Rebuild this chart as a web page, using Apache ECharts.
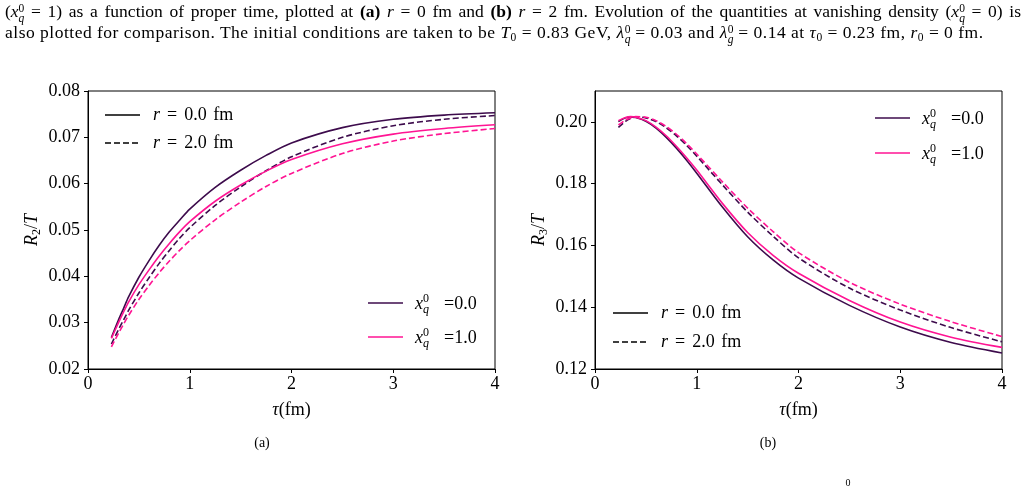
<!DOCTYPE html>
<html>
<head>
<meta charset="utf-8">
<title>R2/T and R3/T against proper time</title>
<script src="https://cdn.jsdelivr.net/npm/echarts@6.0.0/dist/echarts.min.js"></script>
<style>
  body { margin: 0; background: #fff; }
  #page { position: relative; width: 1028px; height: 486px; overflow: hidden; background: #fff; }
  #chart { position: absolute; left: 0; top: 0; width: 1028px; height: 486px; }
  .cap { position: absolute; left: 5px; width: 1016px; font-family: 'Liberation Serif', serif;
         font-size: 17.5px; line-height: 21px; color: #000; z-index: 2; }
  .cap.l1 { top: 1px; text-align: justify; text-align-last: justify; }
  .cap.l2 { top: 22px; letter-spacing: 0.5px; }
  .ss { display: inline-block; vertical-align: -5px; font-size: 11.5px; line-height: 10px; letter-spacing: 0; }
  .ss span, .ss i { display: block; }
  .cap sub { font-size: 11.5px; vertical-align: -3px; line-height: 0; }
</style>
</head>
<body>
<div id="page">
  <div class="cap l1">(<i>x</i><span class="ss"><span>0</span><i>q</i></span> = 1) as a function of proper time, plotted at <b>(a)</b> <i>r</i> = 0 fm and <b>(b)</b> <i>r</i> = 2 fm. Evolution of the quantities at vanishing density (<i>x</i><span class="ss"><span>0</span><i>q</i></span> = 0) is</div>
  <div class="cap l2">also plotted for comparison. The initial conditions are taken to be <i>T</i><sub>0</sub> = 0.83 GeV, <i>λ</i><span class="ss"><span>0</span><i>q</i></span> = 0.03 and <i>λ</i><span class="ss"><span>0</span><i>g</i></span> = 0.14 at <i>τ</i><sub>0</sub> = 0.23 fm, <i>r</i><sub>0</sub> = 0 fm.</div>
  <div id="chart"></div>
</div>
<script>
  'use strict'

  /*-----data-----*/
  var tau = [0.23, 0.3, 0.35, 0.4, 0.5, 0.6, 0.7, 0.8, 0.9, 1.0, 1.25, 1.5, 1.75, 2.0, 2.5, 3.0, 3.5, 4.0];

  // (a) R2/T
  var r2_x0_r0 = [0.0268, 0.0306, 0.0331, 0.0356, 0.0398, 0.0434, 0.0467, 0.0496, 0.0521, 0.0545, 0.0592, 0.0629, 0.0661, 0.0688, 0.0721, 0.0739, 0.0748, 0.0753];
  var r2_x1_r0 = [0.0266, 0.0300, 0.0323, 0.0345, 0.0382, 0.0414, 0.0444, 0.0471, 0.0496, 0.0518, 0.0562, 0.0597, 0.0627, 0.0652, 0.0686, 0.0707, 0.0719, 0.0727];
  var r2_x0_r2 = [0.0254, 0.0285, 0.0306, 0.0327, 0.0364, 0.0397, 0.0428, 0.0456, 0.0482, 0.0505, 0.0553, 0.0593, 0.0628, 0.0658, 0.0700, 0.0725, 0.0739, 0.0747];
  var r2_x1_r2 = [0.0248, 0.0277, 0.0297, 0.0316, 0.0350, 0.0380, 0.0408, 0.0433, 0.0456, 0.0477, 0.0522, 0.0560, 0.0594, 0.0622, 0.0665, 0.0692, 0.0708, 0.0719];

  // (b) R3/T
  var r3_x0_r0 = [0.2001, 0.2013, 0.2016, 0.2014, 0.2002, 0.1980, 0.1950, 0.1915, 0.1876, 0.1834, 0.1725, 0.1628, 0.1553, 0.1494, 0.1406, 0.1336, 0.1286, 0.1252];
  var r3_x1_r0 = [0.2004, 0.2014, 0.2017, 0.2015, 0.2004, 0.1983, 0.1955, 0.1921, 0.1884, 0.1844, 0.1737, 0.1642, 0.1568, 0.1510, 0.1422, 0.1352, 0.1303, 0.1270];
  var r3_x0_r2 = [0.1982, 0.2002, 0.2011, 0.2016, 0.2013, 0.2001, 0.1981, 0.1955, 0.1924, 0.1889, 0.1797, 0.1708, 0.1630, 0.1560, 0.1462, 0.1391, 0.1334, 0.1288];
  var r3_x1_r2 = [0.1990, 0.2006, 0.2013, 0.2017, 0.2015, 0.2004, 0.1985, 0.1960, 0.1930, 0.1896, 0.1807, 0.1721, 0.1645, 0.1577, 0.1481, 0.1410, 0.1353, 0.1305];

  var xTicks = [0, 1, 2, 3, 4];
  var yTicksA = [0.02, 0.03, 0.04, 0.05, 0.06, 0.07, 0.08];
  var yTicksB = [0.12, 0.14, 0.16, 0.18, 0.20];

  var DARK = '#3d0b4c';
  var PINK = '#ff1493';
  var SERIF = 'Liberation Serif';

  /*-----helpers-----*/
  function pairs(ys) {
    return tau.map(function (t, i) { return [t, ys[i]]; });
  }

  function curve(name, idx, ys, color, dashed) {
    return {
      name: name,
      type: 'line',
      xAxisIndex: idx,
      yAxisIndex: idx,
      data: pairs(ys),
      symbol: 'none',
      smooth: 0.3,
      silent: true,
      lineStyle: { color: color, width: 1.6, type: dashed ? [6, 3] : 'solid' }
    };
  }

  function xAxisAt(idx) {
    return {
      gridIndex: idx,
      type: 'value',
      min: 0, max: 4, interval: 1,
      name: '{i|τ}(fm)',
      nameLocation: 'middle',
      nameGap: 32,
      nameTextStyle: {
        fontFamily: SERIF, fontSize: 18, color: '#000',
        rich: { i: { fontFamily: SERIF, fontSize: 18, fontStyle: 'italic', color: '#000' } }
      },
      axisLine: { onZero: false, lineStyle: { color: '#000', width: 1 } },
      axisTick: { length: 4, lineStyle: { color: '#000' }, customValues: xTicks },
      axisLabel: { fontFamily: SERIF, fontSize: 18, color: '#000', margin: 6, customValues: xTicks },
      splitLine: { show: false }
    };
  }

  function yAxisAt(idx, lo, hi, step, ticks, sub) {
    return {
      gridIndex: idx,
      type: 'value',
      min: lo, max: hi, interval: step,
      name: '{i|R}{s|' + sub + '}/{i|T}',
      nameLocation: 'middle',
      nameRotate: 90,
      nameGap: 45,
      nameTextStyle: {
        fontFamily: SERIF, fontSize: 18, color: '#000',
        rich: {
          i: { fontFamily: SERIF, fontSize: 18, fontStyle: 'italic', color: '#000', lineHeight: 22 },
          s: { fontFamily: SERIF, fontSize: 12, color: '#000', lineHeight: 12, verticalAlign: 'bottom' }
        }
      },
      axisLine: { show: true, onZero: false, lineStyle: { color: '#000', width: 1 } },
      axisTick: { show: true, length: 4, lineStyle: { color: '#000' }, customValues: ticks },
      axisLabel: {
        fontFamily: SERIF, fontSize: 18, color: '#000', margin: 8, customValues: ticks,
        formatter: function (v) { return v.toFixed(2); }
      },
      splitLine: { show: false }
    };
  }

  function txt(x, y, s, size, italic) {
    return {
      type: 'text', x: x, y: y, silent: true,
      style: {
        text: s, fontFamily: SERIF, fontSize: size, fontStyle: italic ? 'italic' : 'normal',
        fill: '#000', align: 'left', verticalAlign: 'middle'
      }
    };
  }

  function keyLine(x, y, color, dashed) {
    return {
      type: 'line', silent: true,
      shape: { x1: x, y1: y, x2: x + 35, y2: y },
      style: { stroke: color, lineWidth: 1.6, lineDash: dashed ? [6, 3] : 'solid' }
    };
  }

  // legend entry for the radius (line style)
  function rKey(x, y, dashed, label) {
    return [
      keyLine(x, y, '#000', dashed),
      {
        type: 'text', x: x + 48, y: y, silent: true,
        style: {
          text: '{i|r}{e|=}' + label + '{s| }fm', fontFamily: SERIF, fontSize: 18, fill: '#000',
          verticalAlign: 'middle',
          rich: {
            i: { fontFamily: SERIF, fontSize: 18, fontStyle: 'italic', fill: '#000' },
            e: { fontFamily: SERIF, fontSize: 18, fill: '#000', padding: [0, 7, 0, 7] },
            s: { fontFamily: SERIF, fontSize: 18, fill: '#000', padding: [0, 2, 0, 0] }
          }
        }
      }
    ];
  }

  // legend entry for x_q^0 (colour)
  function xKey(x, y, color, label) {
    var tx = x + 47;
    return [
      keyLine(x, y, color, false),
      txt(tx, y + 1, 'x', 18, true),
      txt(tx + 8, y - 4, '0', 12, false),
      txt(tx + 8, y + 7, 'q', 12, true),
      txt(tx + 29, y + 1, '=' + label, 18, false)
    ];
  }

  var keys = [].concat(
    rKey(105, 115, false, '0.0'), rKey(105, 143, true, '2.0'),
    xKey(368, 303, DARK, '0.0'), xKey(368, 337, PINK, '1.0'),
    xKey(875, 118, DARK, '0.0'), xKey(875, 153, PINK, '1.0'),
    rKey(613, 313, false, '0.0'), rKey(613, 342, true, '2.0'),
    [
      { type: 'text', x: 262, y: 443, silent: true,
        style: { text: '(a)', fontFamily: SERIF, fontSize: 14, fill: '#000', align: 'center', verticalAlign: 'middle' } },
      { type: 'text', x: 768, y: 443, silent: true,
        style: { text: '(b)', fontFamily: SERIF, fontSize: 14, fill: '#000', align: 'center', verticalAlign: 'middle' } },
      { type: 'text', x: 848, y: 483, silent: true,
        style: { text: '0', fontFamily: SERIF, fontSize: 10, fill: '#000', align: 'center', verticalAlign: 'middle' } }
    ]
  );

  /*-----chart-----*/
  var option = {
    animation: false,
    textStyle: { fontFamily: SERIF },
    grid: [
      { left: 88, top: 91, width: 407, height: 278, show: true, borderColor: '#000', borderWidth: 1, backgroundColor: 'transparent' },
      { left: 595, top: 91, width: 407, height: 278, show: true, borderColor: '#000', borderWidth: 1, backgroundColor: 'transparent' }
    ],
    xAxis: [xAxisAt(0), xAxisAt(1)],
    yAxis: [
      yAxisAt(0, 0.02, 0.08, 0.01, yTicksA, '2'),
      yAxisAt(1, 0.12, 0.21, 0.02, yTicksB, '3')
    ],
    series: [
      curve('x0 r0', 0, r2_x0_r0, DARK, false),
      curve('x0 r2', 0, r2_x0_r2, DARK, true),
      curve('x1 r0', 0, r2_x1_r0, PINK, false),
      curve('x1 r2', 0, r2_x1_r2, PINK, true),
      curve('x0 r0', 1, r3_x0_r0, DARK, false),
      curve('x0 r2', 1, r3_x0_r2, DARK, true),
      curve('x1 r0', 1, r3_x1_r0, PINK, false),
      curve('x1 r2', 1, r3_x1_r2, PINK, true)
    ],
    graphic: keys
  };

  var chart = echarts.init(document.getElementById('chart'));
  chart.setOption(option);
</script>
</body>
</html>
